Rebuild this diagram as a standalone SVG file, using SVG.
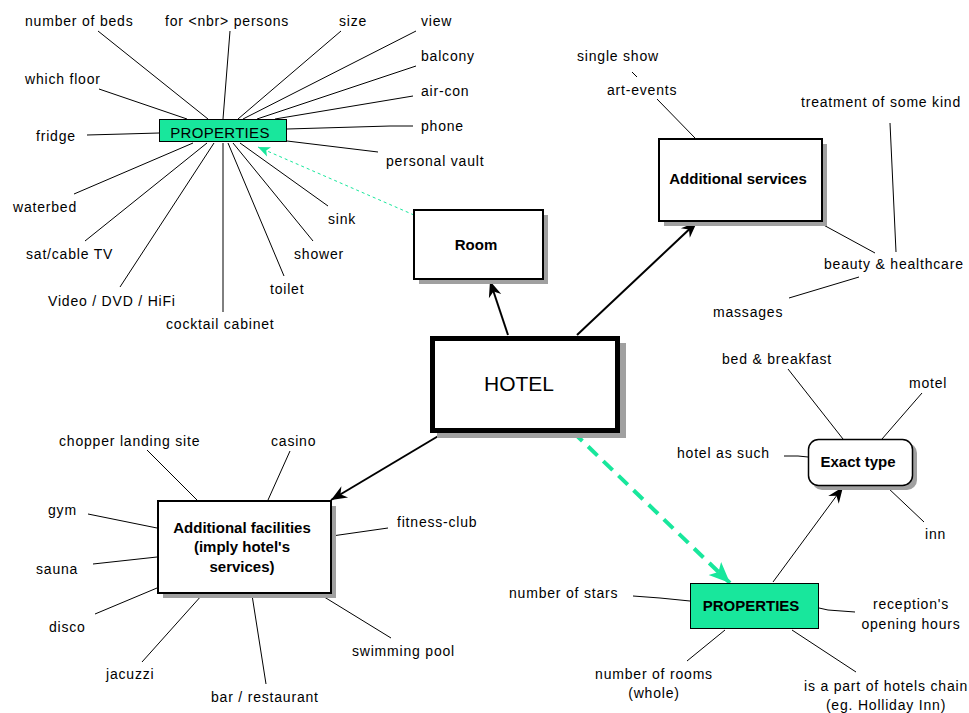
<svg xmlns="http://www.w3.org/2000/svg" width="969" height="713" viewBox="0 0 969 713">
<style>
.lbl{font-family:"Liberation Sans",Arial,sans-serif;font-size:14px;letter-spacing:0.8px;fill:#000}
.bold{font-family:"Liberation Sans",Arial,sans-serif;font-size:15px;font-weight:bold;fill:#000}
.ln{stroke:#000;stroke-width:1;fill:none}
.box{fill:#fff;stroke:#000;stroke-width:2}
.shadow{fill:#a0a0a0}
.green{fill:#18e79c;stroke:#000;stroke-width:1}
.arr{stroke:#000;stroke-width:2;fill:none;marker-end:url(#ah)}
</style>
<defs>
<marker id="ah" markerUnits="userSpaceOnUse" viewBox="-17 -8 18 16" refX="0" refY="0" markerWidth="18" markerHeight="16" orient="auto">
<path d="M0,0 L-16,-6.5 L-11,0 L-16,6.5 Z" fill="#000"/>
</marker>
<marker id="gh" markerUnits="userSpaceOnUse" viewBox="-21 -10 22 20" refX="0" refY="0" markerWidth="22" markerHeight="20" orient="auto">
<path d="M0,0 L-21,-9 L-16,0 L-21,9 Z" fill="#18e79c"/>
</marker>
<marker id="gs" markerUnits="userSpaceOnUse" viewBox="-13 -6 14 12" refX="0" refY="0" markerWidth="14" markerHeight="12" orient="auto">
<path d="M0,0 L-12,-5 L-9,0 L-12,5 Z" fill="#18e79c"/>
</marker>
</defs>
<rect width="969" height="713" fill="#fff"/>

<g id="connectors">
<!-- room properties spokes -->
<line class="ln" x1="98" y1="31" x2="208" y2="119"/>
<line class="ln" x1="230" y1="31" x2="223" y2="119"/>
<line class="ln" x1="341" y1="31" x2="238" y2="119"/>
<line class="ln" x1="416" y1="31" x2="243" y2="119"/>
<line class="ln" x1="416" y1="66" x2="257" y2="119"/>
<polyline class="ln" points="413,96 275,119"/>
<polyline class="ln" points="413,126 390,126 287,129"/>
<line class="ln" x1="378" y1="152" x2="287" y2="141"/>
<polyline class="ln" points="87,135 124,134 159,133"/>
<line class="ln" x1="99" y1="89" x2="187" y2="119"/>
<line class="ln" x1="74" y1="194" x2="193" y2="143"/>
<line class="ln" x1="85" y1="241" x2="207" y2="143"/>
<line class="ln" x1="120" y1="287" x2="214" y2="143"/>
<line class="ln" x1="223" y1="312" x2="223" y2="143"/>
<line class="ln" x1="284" y1="276" x2="228" y2="143"/>
<line class="ln" x1="313" y1="241" x2="233" y2="143"/>
<line class="ln" x1="328" y1="206" x2="240" y2="143"/>
<line x1="414" y1="215" x2="258" y2="147" stroke="#18e79c" stroke-width="1" stroke-dasharray="3 3" marker-end="url(#gs)"/>
<!-- additional services spokes -->
<line class="ln" x1="632" y1="72" x2="637" y2="77"/>
<line class="ln" x1="657" y1="99" x2="695" y2="138"/>
<line class="ln" x1="890" y1="123" x2="896" y2="252"/>
<line class="ln" x1="818" y1="222" x2="875" y2="253"/>
<line class="ln" x1="789" y1="298" x2="859" y2="277"/>
<!-- facilities spokes -->
<line class="ln" x1="147" y1="450" x2="197" y2="500"/>
<line class="ln" x1="290" y1="451" x2="268" y2="500"/>
<line class="ln" x1="88" y1="514" x2="157" y2="528"/>
<line class="ln" x1="93" y1="564" x2="157" y2="557"/>
<line class="ln" x1="95" y1="614" x2="157" y2="588"/>
<line class="ln" x1="142" y1="662" x2="202" y2="595"/>
<line class="ln" x1="266" y1="684" x2="252" y2="595"/>
<line class="ln" x1="391" y1="638" x2="321" y2="595"/>
<line class="ln" x1="388" y1="528" x2="332" y2="536"/>
<!-- exact type spokes -->
<line class="ln" x1="788" y1="369" x2="843" y2="439"/>
<line class="ln" x1="922" y1="393" x2="882" y2="439"/>
<polyline class="ln" points="784,456 798,456 808,457"/>
<line class="ln" x1="924" y1="522" x2="887" y2="487"/>
<!-- hotel properties spokes -->
<polyline class="ln" points="633,596 660,598 690,601"/>
<polyline class="ln" points="819,608 828,610 855,612"/>
<line class="ln" x1="687" y1="661" x2="725" y2="630"/>
<line class="ln" x1="856" y1="672" x2="792" y2="630"/>
<!-- main arrows -->
<line class="arr" x1="508" y1="335" x2="490" y2="281"/>
<line class="arr" x1="577" y1="335" x2="697" y2="222"/>
<line class="arr" x1="440" y1="435" x2="331" y2="500"/>
<line x1="773" y1="582" x2="843" y2="487" stroke="#000" stroke-width="1" marker-end="url(#ah)"/>
<line x1="573" y1="432" x2="730" y2="583" stroke="#18e79c" stroke-width="4" stroke-dasharray="13 8" marker-end="url(#gh)"/>
</g>

<g id="room-properties">
<rect class="green" x="159.5" y="119.5" width="127" height="22"/>
<text class="lbl" x="220" y="138" text-anchor="middle" style="font-size:15px;letter-spacing:0.3px">PROPERTIES</text>
</g>
<g id="room-labels">
<text class="lbl" x="25" y="26">number of beds</text>
<text class="lbl" x="165" y="26">for &lt;nbr&gt; persons</text>
<text class="lbl" x="339" y="26">size</text>
<text class="lbl" x="421" y="26">view</text>
<text class="lbl" x="421" y="61">balcony</text>
<text class="lbl" x="421" y="96">air-con</text>
<text class="lbl" x="421" y="131">phone</text>
<text class="lbl" x="386" y="166">personal vault</text>
<text class="lbl" x="25" y="84">which floor</text>
<text class="lbl" x="36" y="141">fridge</text>
<text class="lbl" x="13" y="212">waterbed</text>
<text class="lbl" x="26" y="259">sat/cable TV</text>
<text class="lbl" x="48" y="306">Video / DVD / HiFi</text>
<text class="lbl" x="166" y="329">cocktail cabinet</text>
<text class="lbl" x="270" y="294">toilet</text>
<text class="lbl" x="294" y="259">shower</text>
<text class="lbl" x="328" y="224">sink</text>
</g>

<g id="room">
<rect class="shadow" x="419" y="215" width="129" height="69"/>
<rect class="box" x="414" y="210" width="129" height="69"/>
<text class="bold" x="476" y="250" text-anchor="middle">Room</text>
</g>

<g id="hotel">
<rect class="shadow" x="437" y="343" width="189" height="95"/>
<rect x="432.5" y="338.5" width="185" height="92" fill="#fff" stroke="#000" stroke-width="5"/>
<text x="519" y="391" text-anchor="middle" font-family="Liberation Sans, Arial, sans-serif" font-size="21">HOTEL</text>
</g>

<g id="services">
<rect class="shadow" x="664" y="144" width="163" height="82"/>
<rect class="box" x="659" y="139" width="163" height="82"/>
<text class="bold" x="738" y="184" text-anchor="middle">Additional services</text>
</g>
<g id="services-labels">
<text class="lbl" x="577" y="61">single show</text>
<text class="lbl" x="607" y="95">art-events</text>
<text class="lbl" x="801" y="107">treatment of some kind</text>
<text class="lbl" x="824" y="269">beauty &amp; healthcare</text>
<text class="lbl" x="713" y="317">massages</text>
</g>

<g id="facilities">
<rect class="shadow" x="163" y="506" width="173" height="92"/>
<rect class="box" x="158" y="501" width="173" height="92"/>
<text class="bold" x="242" y="533" text-anchor="middle">Additional facilities</text>
<text class="bold" x="242" y="552" text-anchor="middle">(imply hotel's</text>
<text class="bold" x="242" y="572" text-anchor="middle">services)</text>
</g>
<g id="facilities-labels">
<text class="lbl" x="59" y="446">chopper landing site</text>
<text class="lbl" x="271" y="446">casino</text>
<text class="lbl" x="48" y="515">gym</text>
<text class="lbl" x="36" y="574">sauna</text>
<text class="lbl" x="49" y="632">disco</text>
<text class="lbl" x="106" y="679">jacuzzi</text>
<text class="lbl" x="211" y="702">bar / restaurant</text>
<text class="lbl" x="352" y="656">swimming pool</text>
<text class="lbl" x="397" y="527">fitness-club</text>
</g>

<g id="exact-type">
<rect class="shadow" x="812" y="443" width="105" height="47" rx="10"/>
<rect x="808.5" y="439.5" width="104" height="46" rx="10" fill="#fff" stroke="#000" stroke-width="1.5"/>
<text class="bold" x="858" y="467" text-anchor="middle">Exact type</text>
</g>
<g id="exact-labels">
<text class="lbl" x="722" y="364">bed &amp; breakfast</text>
<text class="lbl" x="909" y="388">motel</text>
<text class="lbl" x="677" y="458">hotel as such</text>
<text class="lbl" x="925" y="539">inn</text>
</g>

<g id="hotel-properties">
<rect class="green" x="690.5" y="583.5" width="128" height="45"/>
<text class="bold" x="751" y="611" text-anchor="middle">PROPERTIES</text>
</g>
<g id="hotel-properties-labels">
<text class="lbl" x="509" y="598">number of stars</text>
<text class="lbl" x="911" y="609" text-anchor="middle">reception's</text>
<text class="lbl" x="911" y="629" text-anchor="middle">opening hours</text>
<text class="lbl" x="654" y="679" text-anchor="middle">number of rooms</text>
<text class="lbl" x="654" y="698" text-anchor="middle">(whole)</text>
<text class="lbl" x="886" y="691" text-anchor="middle">is a part of hotels chain</text>
<text class="lbl" x="886" y="710" text-anchor="middle">(eg. Holliday Inn)</text>
</g>
</svg>
